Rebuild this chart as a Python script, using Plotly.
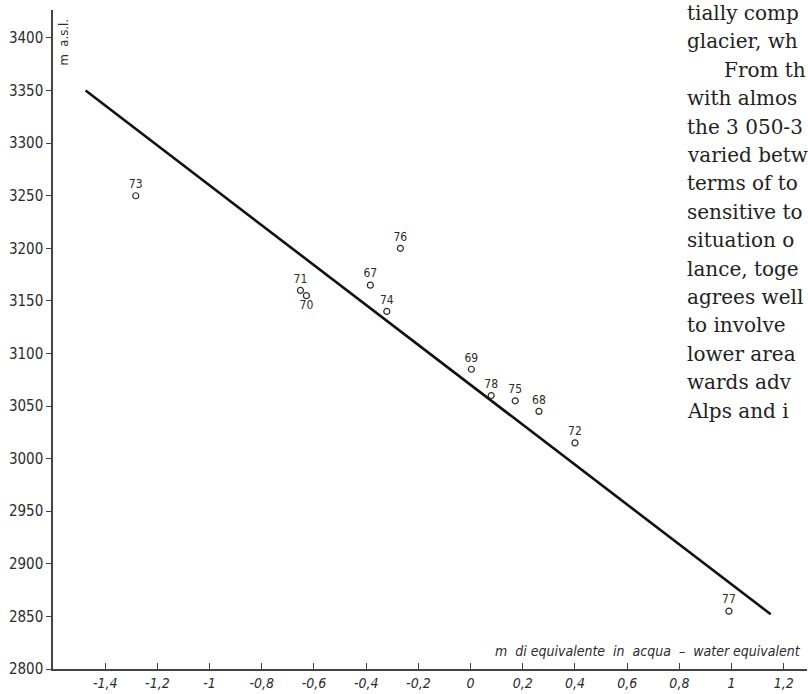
import plotly.graph_objects as go

# Data
years = ["67", "68", "69", "70", "71", "72", "73", "74", "75", "76", "77", "78"]
balance = [-0.384, 0.262, 0.003, -0.629, -0.652, 0.400, -1.283, -0.321, 0.171, -0.269, 0.990, 0.079]
altitude = [3165, 3045, 3085, 3155, 3160, 3015, 3250, 3140, 3055, 3200, 2855, 3060]
label_pos = ["top center"] * 12
label_pos[3] = "bottom center"  # 70 below its circle

line_x = [-1.475, 1.15]
line_y = [3350, 2852]

x_tickvals = [-1.4, -1.2, -1, -0.8, -0.6, -0.4, -0.2, 0, 0.2, 0.4, 0.6, 0.8, 1, 1.2]
x_ticktext = ["-1,4", "-1,2", "-1", "-0,8", "-0,6", "-0,4", "-0,2", "0", "0,2", "0,4", "0,6", "0,8", "1", "1,2"]
y_tickvals = list(range(2800, 3401, 50))

side_text = ["tially comp", "glacier, wh", "From th", "with almos", "the 3 050-3",
             "varied betw", "terms of to", "sensitive to", "situation o", "lance, toge",
             "agrees well", "to involve", "lower area", "wards adv", "Alps and i"]

ink = "#2b2b2b"
sans = "DejaVu Sans Condensed, DejaVu Sans"
fig = go.Figure()
fig.add_trace(go.Scatter(x=line_x, y=line_y, mode="lines",
                         line=dict(color="#111111", width=2.6), hoverinfo="skip"))
fig.add_trace(go.Scatter(x=balance, y=altitude, mode="markers+text", text=years,
                         textposition=label_pos,
                         textfont=dict(family=sans, size=12, color=ink),
                         marker=dict(symbol="circle-open", size=6, color=ink, line=dict(width=1.2))))

fig.update_layout(
    width=808, height=694, showlegend=False,
    paper_bgcolor="white", plot_bgcolor="white",
    margin=dict(l=53, r=1, t=10, b=25),
    xaxis=dict(range=[-1.6, 1.289], tickvals=x_tickvals, ticktext=x_ticktext,
               showgrid=False, zeroline=False, showline=True, linecolor="#444", linewidth=1.5,
               ticks="inside", ticklen=6, tickcolor="#444", tickwidth=1,
               tickfont=dict(family=sans, size=14, color=ink, style="italic")),
    yaxis=dict(range=[2800, 3426.6], tickvals=y_tickvals,
               showgrid=False, zeroline=False, showline=True, linecolor="#444", linewidth=1.5,
               ticks="outside", ticklen=5, tickcolor="#444", tickwidth=1,
               tickfont=dict(family=sans, size=15, color=ink)),
)

fig.add_annotation(text="m  a.s.l.", xref="paper", yref="paper", x=0.014, y=0.95,
                   textangle=-90, showarrow=False, xanchor="center", yanchor="middle",
                   font=dict(family=sans, size=13, color=ink))
fig.add_annotation(text="m  di equivalente  in  acqua  –  water equivalent", xref="paper", yref="paper",
                   x=0.995, y=0.012, showarrow=False, xanchor="right", yanchor="bottom",
                   font=dict(family=sans, size=14, color=ink, style="italic"))

for i, t in enumerate(side_text):
    xpx = 722 if t.startswith("From") else 685
    ypx = 13 + i * 28.4
    fig.add_annotation(text=t, xref="paper", yref="paper",
                       x=(xpx - 53) / 754, y=1 - (ypx - 10) / 659,
                       showarrow=False, xanchor="left", yanchor="middle",
                       font=dict(family="DejaVu Serif", size=20, color="#222"))

fig.write_html("out.html", config={"displayModeBar": False},
               post_script="document.body.style.margin='0';")
